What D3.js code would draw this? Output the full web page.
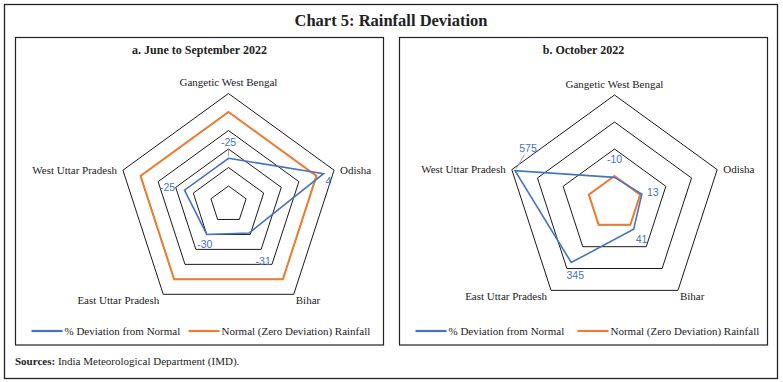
<!DOCTYPE html>
<html><head><meta charset="utf-8">
<script src="https://cdn.jsdelivr.net/npm/d3@7"></script>
<style>
html,body{margin:0;padding:0;background:#fff;}
svg{display:block;}
</style></head>
<body>
<svg id="chart" width="783" height="382"></svg>
<script>
// ---- data ----
const categories = ["Gangetic West Bengal", "Odisha", "Bihar", "East Uttar Pradesh", "West Uttar Pradesh"];
const junSepDeviation = [-25, 4, -31, -30, -25];
const octDeviation = [-10, 13, 41, 345, 575];
const normalRainfall = [0, 0, 0, 0, 0];
const junSepTicks = [-50, -40, -30, -20, -10, 0, 10];
const octTicks = [-200, 0, 200, 400, 600];
const seriesNames = ["% Deviation from Normal", "Normal (Zero Deviation) Rainfall"];

// ---- styling / layout ----
const BLUE = "#4472C4", ORANGE = "#ED7D31";
const SERIF = "'Liberation Serif', 'DejaVu Serif', serif";
const SANS = "'Liberation Sans', Arial, sans-serif";

const svg = d3.select("#chart");

svg.append("rect").attr("x", 4.5).attr("y", 4.5).attr("width", 773).attr("height", 374)
  .attr("fill", "none").attr("stroke", "#222").attr("stroke-width", 1.3);

svg.append("text").attr("x", 391).attr("y", 26).attr("text-anchor", "middle")
  .attr("font-family", SERIF).attr("font-weight", "bold").attr("font-size", 16.5).attr("fill", "#222")
  .text("Chart 5: Rainfall Deviation");

const sources = svg.append("text").attr("x", 15).attr("y", 365)
  .attr("font-family", SERIF).attr("font-size", 11).attr("fill", "#222");
sources.append("tspan").attr("font-weight", "bold").text("Sources:");
sources.append("tspan").text(" India Meteorological Department (IMD).");

// label offsets in category order: Gangetic, Odisha, Bihar, East UP, West UP
const panels = [
  {
    x: 15.5, w: 368, title: "a. June to September 2022",
    cx: 228.5, cy: 204.5, R: 111, ticks: junSepTicks, values: junSepDeviation,
    labelOffsets: [[0, -16], [5, 8], [14, 28], [-2, 10], [-17, -3]],
    leaders: [0],
    legend: [16, 173]
  },
  {
    x: 399.5, w: 368, title: "b. October 2022",
    cx: 614.5, cy: 203, R: 108, ticks: octTicks, values: octDeviation,
    labelOffsets: [[0, -18], [11, -2], [8, 10], [4, 13], [13, -22]],
    leaders: [4],
    legend: [16, 178]
  }
];

// label positions for category names, relative to the outer vertex
const catLabelLayout = [
  {dx: 0, dy: -11, anchor: "middle"},
  {dx: 6, dy: 0, anchor: "start"},
  {dx: 2, dy: 6, anchor: "start"},
  {dx: -4, dy: 6, anchor: "end"},
  {dx: -6, dy: 0, anchor: "end"}
];

panels.forEach(p => {
  const g = svg.append("g");
  g.append("rect").attr("x", p.x).attr("y", 37.5).attr("width", p.w).attr("height", 307.5)
    .attr("fill", "none").attr("stroke", "#222").attr("stroke-width", 1.2);
  g.append("text").attr("x", p.x + p.w / 2).attr("y", 54).attr("text-anchor", "middle")
    .attr("font-family", SERIF).attr("font-weight", "bold").attr("font-size", 12).attr("fill", "#222")
    .text(p.title);

  const r = d3.scaleLinear().domain([p.ticks[0], p.ticks[p.ticks.length - 1]]).range([0, p.R]);
  const angle = d3.scalePoint().domain(categories).range([0, 2 * Math.PI * (categories.length - 1) / categories.length]);
  const pt = (cat, v) => {
    const a = angle(cat), rr = r(v);
    return [p.cx + Math.sin(a) * rr, p.cy - Math.cos(a) * rr];
  };
  const line = d3.line().curve(d3.curveLinearClosed);

  // gridlines
  p.ticks.slice(1).forEach(t => {
    g.append("path").attr("d", line(categories.map(c => pt(c, t))))
      .attr("fill", "none").attr("stroke", "#1a1a1a").attr("stroke-width", 1);
  });

  // category labels
  const maxT = p.ticks[p.ticks.length - 1];
  categories.forEach((c, i) => {
    const [x, y] = pt(c, maxT);
    const L = catLabelLayout[i];
    g.append("text").attr("x", x + L.dx).attr("y", y + L.dy).attr("dy", "0.35em")
      .attr("text-anchor", L.anchor).attr("font-family", SERIF).attr("font-size", 11).attr("fill", "#222")
      .text(c);
  });

  // normal (zero) series
  g.append("path").attr("d", line(categories.map((c, i) => pt(c, normalRainfall[i]))))
    .attr("fill", "none").attr("stroke", ORANGE).attr("stroke-width", 2).attr("stroke-linejoin", "miter");

  // deviation series
  g.append("path").attr("d", line(categories.map((c, i) => pt(c, p.values[i]))))
    .attr("fill", "none").attr("stroke", BLUE).attr("stroke-width", 1.6).attr("stroke-linejoin", "miter");

  // data labels
  categories.forEach((c, i) => {
    const [x, y] = pt(c, p.values[i]);
    const [dx, dy] = p.labelOffsets[i];
    if (p.leaders.includes(i)) {
      const len = Math.hypot(dx, dy);
      const ux = dx / len, uy = dy / len;
      g.append("line").attr("x1", x + ux * 2).attr("y1", y + uy * 2)
        .attr("x2", x + dx - ux * 7).attr("y2", y + dy - uy * 7)
        .attr("stroke", "#a6a6a6").attr("stroke-width", 1);
    }
    g.append("text").attr("x", x + dx).attr("y", y + dy).attr("dy", "0.35em").attr("text-anchor", "middle")
      .attr("font-family", SANS).attr("font-size", 10.5).attr("fill", BLUE)
      .text(p.values[i]);
  });

  // legend
  const ly = 331;
  const lx0 = p.x + p.legend[0], lx1 = p.x + p.legend[1];
  [[lx0, BLUE, seriesNames[0]], [lx1, ORANGE, seriesNames[1]]].forEach(([lx, col, name]) => {
    g.append("line").attr("x1", lx).attr("x2", lx + 31).attr("y1", ly).attr("y2", ly)
      .attr("stroke", col).attr("stroke-width", 2.2);
    g.append("text").attr("x", lx + 33).attr("y", ly).attr("dy", "0.35em")
      .attr("font-family", SERIF).attr("font-size", 11).attr("fill", "#222").text(name);
  });
});
</script>
</body></html>
